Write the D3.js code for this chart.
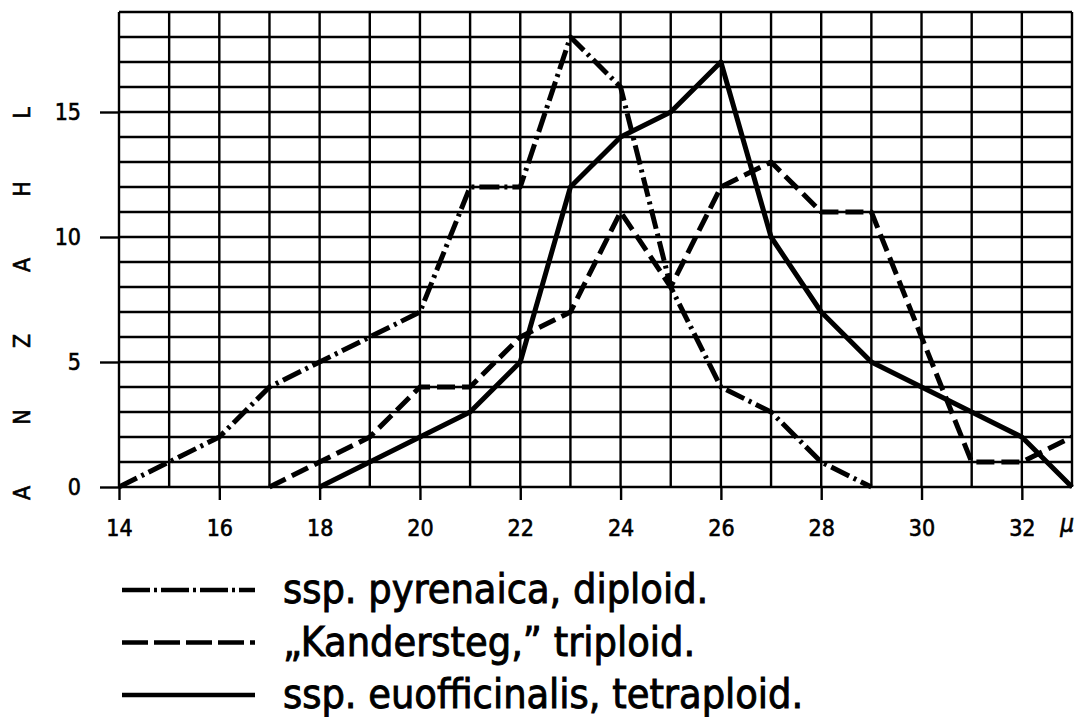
<!DOCTYPE html>
<html>
<head>
<meta charset="utf-8">
<script src="https://cdn.jsdelivr.net/npm/d3@7"></script>
<style>
  body { margin: 0; background: #fff; }
  svg text { font-family: "DejaVu Sans Condensed", "DejaVu Sans", sans-serif; fill: #000; stroke: #000; stroke-width: 0.6px; }
</style>
</head>
<body>
<div id="chart"></div>
<script>
// Pollen size (micron) vs count
var diploidX = [14, 15, 16, 17, 18, 19, 20, 21, 22, 23, 24, 25, 26, 27, 28, 29];
var diploidY = [0, 1, 2, 4, 5, 6, 7, 12, 12, 18, 16, 8, 4, 3, 1, 0];
var triploidX = [17, 18, 19, 20, 21, 22, 23, 24, 25, 26, 27, 28, 29, 30, 31, 32, 33];
var triploidY = [0, 1, 2, 4, 4, 6, 7, 11, 8, 12, 13, 11, 11, 6, 1, 1, 2];
var tetraX = [18, 19, 20, 21, 22, 23, 24, 25, 26, 27, 28, 29, 30, 31, 32, 33];
var tetraY = [0, 1, 2, 3, 5, 12, 14, 15, 17, 10, 7, 5, 4, 3, 2, 0];
var xTicks = [14, 16, 18, 20, 22, 24, 26, 28, 30, 32];
var yTicks = [0, 5, 10, 15];
var legendLabels = ["ssp. pyrenaica, diploid.", "\u201EKandersteg,\u201D triploid.", "ssp. euofficinalis, tetraploid."];
var yLabel = ["A", "N", "Z", "A", "H", "L"];

var width = 1079, height = 717;
var margin = { left: 119, right: 7, top: 12, bottom: 230 };
var w = width - margin.left - margin.right;
var h = height - margin.top - margin.bottom;

var svg = d3.select("#chart").append("svg")
  .attr("width", width)
  .attr("height", height);

var g = svg.append("g")
  .attr("transform", "translate(" + margin.left + "," + margin.top + ")");

var x = d3.scaleLinear().domain([14, 33]).range([0, w]);
var y = d3.scaleLinear().domain([0, 19]).range([h, 0]);

// grid
g.selectAll(".vgrid").data(d3.range(14, 34)).enter().append("line")
  .attr("x1", function(d) { return x(d); })
  .attr("x2", function(d) { return x(d); })
  .attr("y1", 0).attr("y2", h)
  .attr("stroke", "#000").attr("stroke-width", 2.4);
g.selectAll(".hgrid").data(d3.range(0, 20)).enter().append("line")
  .attr("y1", function(d) { return y(d); })
  .attr("y2", function(d) { return y(d); })
  .attr("x1", 0).attr("x2", w)
  .attr("stroke", "#000").attr("stroke-width", 2.4);

// axes (ticks only stick out)
var xAxis = g.append("g")
  .attr("transform", "translate(0," + h + ")")
  .call(d3.axisBottom(x).tickValues(xTicks).tickSize(13).tickPadding(20).tickFormat(d3.format("d")));
var yAxis = g.append("g")
  .call(d3.axisLeft(y).tickValues(yTicks).tickSize(19).tickPadding(19).tickFormat(d3.format("d")));
[xAxis, yAxis].forEach(function(a) {
  a.select(".domain").remove();
  a.selectAll(".tick line").attr("stroke", "#000").attr("stroke-width", 2.4);
  a.selectAll(".tick text").style("font-size", "23px").attr("fill", "#000");
});

// unit
g.append("text")
  .attr("x", x(33) - 5)
  .attr("y", h + 45)
  .attr("text-anchor", "middle")
  .style("font-size", "24px")
  .style("font-style", "italic")
  .text("\u03BC");

// y axis title, letters spread out
var ly = d3.scaleLinear().domain([0, yLabel.length - 1]).range([493, 113]);
svg.selectAll(".ylab").data(yLabel).enter().append("text")
  .attr("transform", function(d, i) { return "translate(30," + ly(i) + ") rotate(-90)"; })
  .attr("text-anchor", "middle")
  .style("font-size", "23px")
  .text(function(d) { return d; });

// series
var series = [
  { xs: diploidX, ys: diploidY, dash: "20,5,3,5", legDash: "28,4,3,4" },
  { xs: triploidX, ys: triploidY, dash: "18,7", legDash: "26,6" },
  { xs: tetraX, ys: tetraY, dash: null, legDash: null }
];
var line = d3.line()
  .x(function(d) { return x(d[0]); })
  .y(function(d) { return y(d[1]); });

series.forEach(function(s) {
  g.append("path")
    .datum(d3.zip(s.xs, s.ys))
    .attr("d", line)
    .attr("fill", "none")
    .attr("stroke", "#000")
    .attr("stroke-width", 5)
    .attr("stroke-linejoin", "round")
    .attr("stroke-dasharray", s.dash);
});

// legend
var leg = svg.append("g").attr("transform", "translate(122,590)");
legendLabels.forEach(function(t, i) {
  var row = leg.append("g").attr("transform", "translate(0," + (i * 52.5) + ")");
  row.append("line")
    .attr("x1", 0).attr("x2", 133)
    .attr("y1", 0).attr("y2", 0)
    .attr("stroke", "#000")
    .attr("stroke-width", 4.5)
    .attr("stroke-dasharray", series[i].legDash);
  row.append("text")
    .attr("x", 161)
    .attr("y", 13)
    .style("font-size", "41px")
    .style("stroke-width", "0.9px")
    .text(t);
});
</script>
</body>
</html>
